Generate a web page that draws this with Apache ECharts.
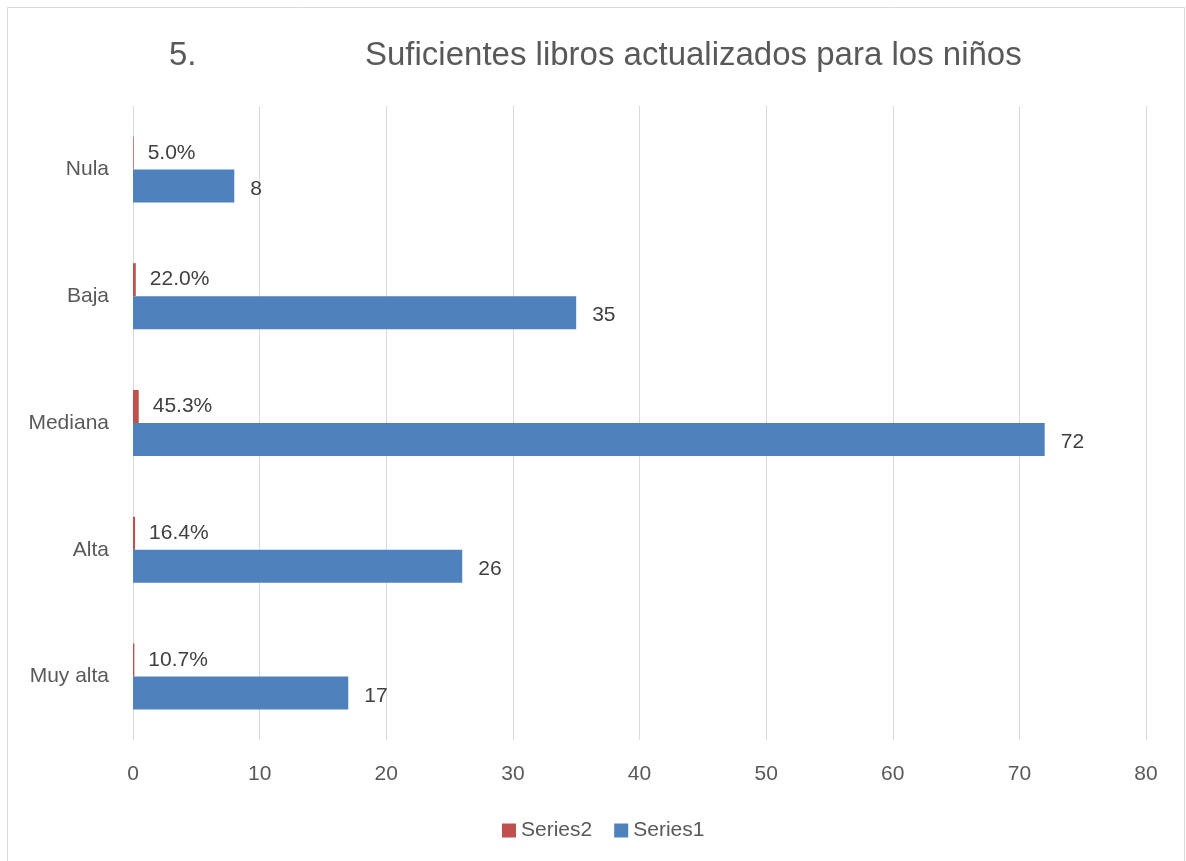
<!DOCTYPE html>
<html>
<head>
<meta charset="utf-8">
<script src="https://cdn.jsdelivr.net/npm/echarts@6/dist/echarts.min.js"></script>
<style>
  html, body { margin: 0; padding: 0; background: #fff; }
  #chart { width: 1186px; height: 861px; }
</style>
</head>
<body>
<div id="chart"></div>
<script>
  const categories = ['Nula', 'Baja', 'Mediana', 'Alta', 'Muy alta'];
  const series1Values = [8, 35, 72, 26, 17];
  const series2Values = [0.050, 0.220, 0.453, 0.164, 0.107];
  const xTicks = [0, 10, 20, 30, 40, 50, 60, 70, 80];

  const FONT = '"Liberation Sans", "Open Sans", sans-serif';
  const TEXT = '#595959';

  const chart = echarts.init(document.getElementById('chart'));

  chart.setOption({
    animation: false,
    textStyle: { fontFamily: FONT },
    title: [
      {
        text: '5.',
        left: 164,
        top: 34,
        textStyle: { fontFamily: FONT, fontSize: 33, fontWeight: 'normal', color: TEXT }
      },
      {
        text: 'Suficientes libros actualizados para los niños',
        left: 360,
        top: 34,
        textStyle: { fontFamily: FONT, fontSize: 33, fontWeight: 'normal', color: TEXT }
      }
    ],
    graphic: [
      {
        type: 'rect',
        shape: { x: 7.5, y: 7.5, width: 1177, height: 860 },
        style: { fill: 'none', stroke: '#d9d9d9', lineWidth: 1 },
        silent: true
      }
    ],
    legend: {
      data: ['Series2', 'Series1'],
      left: 497,
      top: 815,
      itemWidth: 14,
      itemHeight: 14,
      itemGap: 22,
      icon: 'rect',
      textStyle: { fontFamily: FONT, fontSize: 21, color: TEXT }
    },
    grid: { left: 133, right: 40, top: 106, bottom: 121 },
    xAxis: {
      type: 'value',
      min: xTicks[0],
      max: xTicks[xTicks.length - 1],
      interval: 10,
      axisLine: { show: false },
      axisTick: { show: false },
      axisLabel: { fontFamily: FONT, fontSize: 21, color: TEXT, margin: 24 },
      splitLine: { show: true, lineStyle: { color: '#d9d9d9', width: 1 } }
    },
    yAxis: {
      type: 'category',
      inverse: true,
      data: categories,
      axisLine: { show: false },
      axisTick: { show: false },
      axisLabel: { fontFamily: FONT, fontSize: 21, color: TEXT, margin: 24 },
      splitLine: { show: false }
    },
    series: [
      {
        name: 'Series2',
        type: 'bar',
        data: series2Values,
        barWidth: 33,
        barGap: '0%',
        itemStyle: { color: '#c0504d' },
        label: {
          show: true,
          position: 'right',
          distance: 14,
          fontFamily: FONT,
          fontSize: 21,
          color: '#404040',
          formatter: (p) => (p.value * 100).toFixed(1) + '%'
        }
      },
      {
        name: 'Series1',
        type: 'bar',
        data: series1Values,
        barWidth: 33,
        barGap: '0%',
        itemStyle: { color: '#4f81bd' },
        label: {
          show: true,
          position: 'right',
          distance: 16,
          offset: [0, 3],
          fontFamily: FONT,
          fontSize: 21,
          color: '#404040'
        }
      }
    ]
  });
</script>
</body>
</html>
